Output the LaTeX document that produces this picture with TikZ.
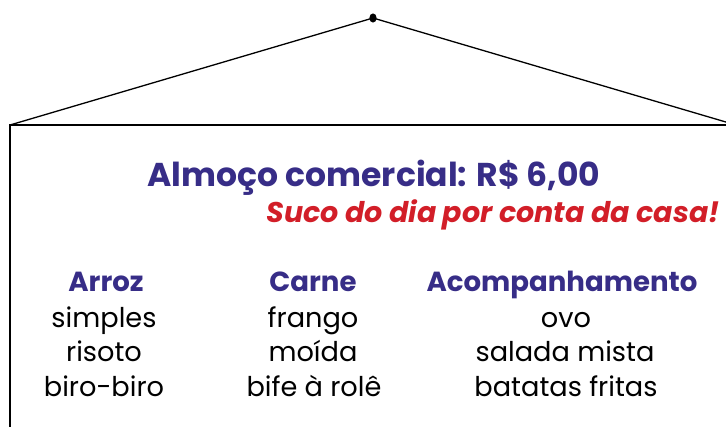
\documentclass[tikz,border=0pt]{standalone}
\usepackage{fontspec}
\setmainfont{Poppins}
\definecolor{signblue}{RGB}{55,45,135}
\definecolor{signred}{RGB}{210,30,40}
\begin{document}
\begin{tikzpicture}[x=1pt,y=-1pt,
  txt/.style={anchor=base,inner sep=0pt},
  titletext/.style={txt,text=signblue,font=\bfseries\fontsize{33}{36}\selectfont},
  promotext/.style={txt,text=signred,font=\bfseries\itshape\fontsize{28.5}{32}\selectfont},
  headtext/.style={txt,text=signblue,font=\bfseries\fontsize{27.6}{30}\selectfont},
  itemtext/.style={txt,text=black,font=\fontsize{27.2}{30}\selectfont},
  wire/.style={line width=1.3pt},
  frame/.style={line width=2.2pt}]
\useasboundingbox (0,0) rectangle (726,427);
\clip (0,0) rectangle (726,427);
\coordinate (apex) at (373,18);
\coordinate (tl) at (10,125);
\coordinate (tr) at (736,125);
\coordinate (bl) at (10,450);
\coordinate (br) at (736,450);
\draw[wire] (tl) -- (apex) -- (tr);
\fill (apex) ellipse (3.6 and 4.6);
\draw[frame] (bl) -- (tl) -- (tr) -- (br);
\node[titletext] (title) at (374,187) {Almoço comercial: R\$ 6,00};
\node[promotext] (promo) at (493,223) {Suco do dia por conta da casa!};
\node[headtext] (h1) at (106,292) {Arroz};
\node[headtext] (h2) at (313,292) {Carne};
\node[headtext] (h3) at (562,292) {Acompanhamento};
\node[itemtext] (a1) at (104,328) {simples};
\node[itemtext] (a2) at (104,362) {risoto};
\node[itemtext] (a3) at (104,397) {biro-biro};
\node[itemtext] (c1) at (313,328) {frango};
\node[itemtext] (c2) at (313,362) {moída};
\node[itemtext] (c3) at (314,397) {bife à rolê};
\node[itemtext] (s1) at (566,328) {ovo};
\node[itemtext] (s2) at (565,362) {salada mista};
\node[itemtext] (s3) at (566,397) {batatas fritas};
\end{tikzpicture}
\end{document}
